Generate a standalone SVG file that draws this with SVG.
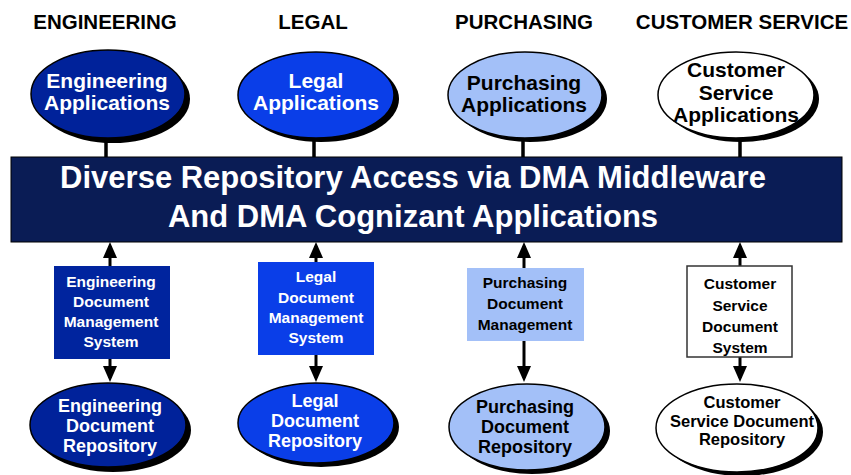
<svg xmlns="http://www.w3.org/2000/svg" width="851" height="475" viewBox="0 0 851 475">
<style>
text{font-family:"Liberation Sans",Arial,sans-serif;font-weight:bold;text-anchor:middle}
.hdr{font-size:20.5px;fill:#000}
.app{font-size:21px}
.w{fill:#fff}
.k{fill:#000}
.box{font-size:15.5px}
.rep{font-size:18px}
.sh{fill:#000}
.el{stroke:#000;stroke-width:1.5}
.stem{stroke:#000;stroke-width:3.5}
.arr{stroke:#000;stroke-width:3;fill:none;marker-end:url(#ah)}
</style>
<defs>
<marker id="ah" markerUnits="userSpaceOnUse" markerWidth="16" markerHeight="14" refX="12" refY="7" orient="auto" viewBox="0 0 16 14">
<path d="M0,0 L16,7 L0,14 z" fill="#000"/>
</marker>
</defs>
<rect width="851" height="475" fill="#fff"/>

<g id="headers">
<text class="hdr" x="105" y="29">ENGINEERING</text>
<text class="hdr" x="313" y="29">LEGAL</text>
<text class="hdr" x="524" y="29">PURCHASING</text>
<text class="hdr" x="742" y="29">CUSTOMER SERVICE</text>
</g>

<g id="connectors">
<line class="stem" x1="106" y1="138" x2="106" y2="158"/>
<line class="stem" x1="314" y1="137" x2="314" y2="158"/>
<line class="stem" x1="523" y1="137" x2="523" y2="158"/>
<line class="stem" x1="740" y1="137" x2="740" y2="158"/>
<line class="arr" x1="110" y1="266" x2="110" y2="246"/>
<line class="arr" x1="316" y1="262" x2="316" y2="246"/>
<line class="arr" x1="524" y1="268" x2="524" y2="246"/>
<line class="arr" x1="740" y1="266" x2="740" y2="246"/>
<line class="arr" x1="110" y1="359" x2="110" y2="378"/>
<line class="arr" x1="316" y1="355" x2="316" y2="378"/>
<line class="arr" x1="524" y1="341" x2="524" y2="378"/>
<line class="arr" x1="740" y1="357" x2="740" y2="378"/>
</g>

<g id="eng-app">
<ellipse class="sh" cx="113" cy="99" rx="77" ry="44"/>
<ellipse class="el" cx="108" cy="94" rx="77" ry="44" fill="#00229a"/>
<text class="app w" x="107" y="88">Engineering</text>
<text class="app w" x="107" y="110">Applications</text>
</g>
<g id="legal-app">
<ellipse class="sh" cx="321" cy="99" rx="78" ry="43"/>
<ellipse class="el" cx="316" cy="95" rx="78" ry="43" fill="#0a3ee8"/>
<text class="app w" x="316" y="88">Legal</text>
<text class="app w" x="316" y="110">Applications</text>
</g>
<g id="purch-app">
<ellipse class="sh" cx="530" cy="99" rx="77" ry="43"/>
<ellipse class="el" cx="525" cy="95" rx="77" ry="43" fill="#a3c0f8"/>
<text class="app k" x="524" y="90">Purchasing</text>
<text class="app k" x="524" y="112">Applications</text>
</g>
<g id="cust-app">
<ellipse class="sh" cx="741" cy="99" rx="78" ry="43"/>
<ellipse class="el" cx="736" cy="95" rx="78" ry="43" fill="#fff"/>
<text class="app k" x="736" y="77">Customer</text>
<text class="app k" x="736" y="100">Service</text>
<text class="app k" x="736" y="122">Applications</text>
</g>

<g id="middleware">
<rect x="11" y="157" width="831" height="85" fill="#0a1c55" stroke="#000" stroke-width="1"/>
<text class="w" style="font-size:31px" x="413" y="188">Diverse Repository Access via DMA Middleware</text>
<text class="w" style="font-size:31px" x="413" y="227">And DMA Cognizant Applications</text>
</g>

<g id="eng-dms">
<rect x="54" y="266" width="116" height="93" fill="#00249e"/>
<text class="box w" x="111" y="287">Engineering</text>
<text class="box w" x="111" y="307">Document</text>
<text class="box w" x="111" y="327">Management</text>
<text class="box w" x="111" y="347">System</text>
</g>
<g id="legal-dms">
<rect x="258" y="262" width="116" height="93" fill="#0a3ee8"/>
<text class="box w" x="316" y="282">Legal</text>
<text class="box w" x="316" y="303">Document</text>
<text class="box w" x="316" y="323">Management</text>
<text class="box w" x="316" y="343">System</text>
</g>
<g id="purch-dm">
<rect x="467" y="268" width="117" height="73" fill="#a3c0f8"/>
<text class="box k" x="525" y="288">Purchasing</text>
<text class="box k" x="525" y="309">Document</text>
<text class="box k" x="525" y="330">Management</text>
</g>
<g id="cust-ds">
<rect x="687" y="266" width="105" height="91" fill="#fff" stroke="#333" stroke-width="1.5"/>
<text class="box k" x="740" y="289">Customer</text>
<text class="box k" x="740" y="311">Service</text>
<text class="box k" x="740" y="332">Document</text>
<text class="box k" x="740" y="353">System</text>
</g>

<g id="eng-rep">
<ellipse class="sh" cx="113" cy="430" rx="78" ry="42"/>
<ellipse class="el" cx="108" cy="425" rx="78" ry="42" fill="#00229a"/>
<text class="rep w" x="110" y="412">Engineering</text>
<text class="rep w" x="110" y="432">Document</text>
<text class="rep w" x="110" y="452">Repository</text>
</g>
<g id="legal-rep">
<ellipse class="sh" cx="321" cy="427" rx="78" ry="40"/>
<ellipse class="el" cx="316" cy="423" rx="78" ry="40" fill="#0a3ee8"/>
<text class="rep w" x="315" y="407">Legal</text>
<text class="rep w" x="315" y="427">Document</text>
<text class="rep w" x="315" y="447">Repository</text>
</g>
<g id="purch-rep">
<ellipse class="sh" cx="532" cy="431" rx="78" ry="43"/>
<ellipse class="el" cx="527" cy="427" rx="78" ry="43" fill="#a3c0f8"/>
<text class="rep k" x="525" y="413">Purchasing</text>
<text class="rep k" x="525" y="433">Document</text>
<text class="rep k" x="525" y="453">Repository</text>
</g>
<g id="cust-rep">
<ellipse class="sh" cx="742" cy="432" rx="81" ry="44"/>
<ellipse class="el" cx="737" cy="428" rx="81" ry="44" fill="#fff"/>
<text class="k" style="font-size:16.5px" x="742" y="408">Customer</text>
<text class="k" style="font-size:16.5px" x="742" y="427">Service Document</text>
<text class="k" style="font-size:16.5px" x="742" y="445">Repository</text>
</g>
</svg>
